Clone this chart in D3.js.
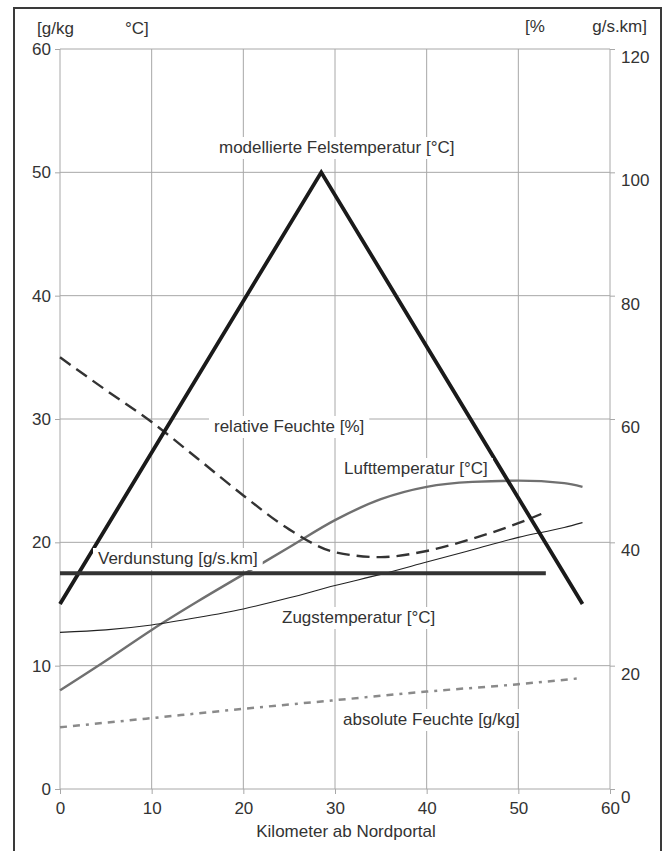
<!DOCTYPE html>
<html>
<head>
<meta charset="utf-8">
<script src="https://cdn.jsdelivr.net/npm/d3@7"></script>
<style>
  html, body { margin: 0; padding: 0; background: #fff; }
  svg { display: block; }
  text { font-family: "Liberation Sans", Arial, Helvetica, sans-serif; fill: #333; }
</style>
</head>
<body>
<svg id="chart" width="667" height="851"></svg>
<script>
// ---------- data ----------
const xTicks = [0, 10, 20, 30, 40, 50, 60];
const yLeftTicks = [0, 10, 20, 30, 40, 50, 60];
const yRightTicks = [0, 20, 40, 60, 80, 100, 120];

// modellierte Felstemperatur [°C] (left axis)
const felsKm   = [0, 28.5, 57];
const felsTemp = [15, 50, 15];

// relative Feuchte [%] (right axis)
const relKm  = [0, 5, 10, 15, 20, 25, 30, 35, 40, 45, 50, 52.5];
const relHum = [70, 64.7, 59.5, 53.6, 47.6, 42.1, 38.4, 37.6, 38.6, 40.6, 43.1, 44.6];

// Lufttemperatur [°C] (left axis)
const luftKm   = [0, 5, 10, 15, 20, 25, 30, 35, 40, 45, 50, 55, 57];
const luftTemp = [8.0, 10.4, 12.9, 15.2, 17.4, 19.6, 21.8, 23.5, 24.5, 24.9, 25.0, 24.8, 24.5];

// Zugstemperatur [°C] (left axis)
const zugKm   = [0, 5, 10, 15, 20, 25, 30, 35, 40, 45, 50, 55, 57];
const zugTemp = [12.7, 12.9, 13.3, 13.9, 14.6, 15.5, 16.5, 17.4, 18.4, 19.4, 20.4, 21.2, 21.6];

// absolute Feuchte [g/kg] (left axis)
const absKm  = [0, 10, 20, 30, 40, 50, 57];
const absVal = [5.0, 5.75, 6.5, 7.2, 7.9, 8.5, 9.0];

// Verdunstung [g/s.km] (right axis)
const verdKm  = [0, 53];
const verdVal = [35, 35];

const labelTexts = [
  "modellierte Felstemperatur [°C]",
  "relative Feuchte [%]",
  "Lufttemperatur [°C]",
  "Verdunstung [g/s.km]",
  "Zugstemperatur [°C]",
  "absolute Feuchte [g/kg]"
];
const xTitle = "Kilometer ab Nordportal";
const unitLeft = ["[g/kg", "°C]"];
const unitRight = ["[%", "g/s.km]"];

// ---------- drawing ----------
const svg = d3.select("#chart");
const FS = 17;
const x = d3.scaleLinear().domain([0, 60]).range([60, 610]);
const yL = d3.scaleLinear().domain([0, 60]).range([789, 49]);
const yR = d3.scaleLinear().domain([0, 120]).range([789, 49]);
const gridColor = "#a8a8a8";

// outer frame
svg.append("path")
  .attr("d", "M14,860 L14,8 L661,8 L661,860")
  .attr("fill", "none").attr("stroke", "#3a3a3a").attr("stroke-width", 2);

// gridlines
const grid = svg.append("g");
grid.selectAll("line.h").data(yLeftTicks).join("line")
  .attr("x1", x(0)).attr("x2", x(60))
  .attr("y1", d => yL(d)).attr("y2", d => yL(d))
  .attr("stroke", gridColor).attr("stroke-width", 1);
grid.selectAll("line.v").data(xTicks).join("line")
  .attr("x1", d => x(d)).attr("x2", d => x(d))
  .attr("y1", yL(0)).attr("y2", yL(60))
  .attr("stroke", gridColor).attr("stroke-width", 1);

// axes
function styleAxis(g) {
  g.select(".domain").remove();
  g.selectAll(".tick line").attr("stroke", gridColor);
  g.selectAll(".tick text").attr("font-size", FS).attr("fill", "#333")
    .attr("font-family", "Liberation Sans, Arial, sans-serif");
}
svg.append("g").attr("transform", `translate(${x(0)},0)`)
  .call(d3.axisLeft(yL).tickValues(yLeftTicks).tickSize(5).tickPadding(4))
  .call(styleAxis);
svg.append("g").attr("transform", `translate(${x(60)},0)`)
  .call(d3.axisRight(yR).tickValues(yRightTicks).tickSize(5).tickPadding(6))
  .call(styleAxis)
  .call(g => g.selectAll(".tick text").attr("transform", "translate(0,8)"));
svg.append("g").attr("transform", `translate(0,${yL(0)})`)
  .call(d3.axisBottom(x).tickValues(xTicks).tickSize(5).tickPadding(8))
  .call(styleAxis);

// series
const lineL = d3.line().x(d => x(d[0])).y(d => yL(d[1])).curve(d3.curveMonotoneX);
const lineR = d3.line().x(d => x(d[0])).y(d => yR(d[1])).curve(d3.curveMonotoneX);
const straightL = d3.line().x(d => x(d[0])).y(d => yL(d[1]));
const straightR = d3.line().x(d => x(d[0])).y(d => yR(d[1]));
const zip = (a, b) => a.map((v, i) => [v, b[i]]);

svg.append("path").datum(zip(luftKm, luftTemp)).attr("d", lineL)
  .attr("fill", "none").attr("stroke", "#707070").attr("stroke-width", 2.4);
svg.append("path").datum(zip(zugKm, zugTemp)).attr("d", lineL)
  .attr("fill", "none").attr("stroke", "#222").attr("stroke-width", 1.1);
svg.append("path").datum(zip(absKm, absVal)).attr("d", lineL)
  .attr("fill", "none").attr("stroke", "#8a8a8a").attr("stroke-width", 2.5)
  .attr("stroke-dasharray", "7,6,7,6,3,6");
svg.append("path").datum(zip(relKm, relHum)).attr("d", lineR)
  .attr("fill", "none").attr("stroke", "#333").attr("stroke-width", 2.4)
  .attr("stroke-dasharray", "13,7");

// label positions (pixel anchors, baseline)
const labelPos = [
  [219, 153], [214, 432], [344, 474], [98, 564], [282, 623], [343, 725]
];
const labels = svg.append("g");
labelTexts.forEach((t, i) => {
  const [lx, ly] = labelPos[i];
  const txt = labels.append("text").attr("x", lx).attr("y", ly)
    .attr("font-size", FS).text(t);
  const w = txt.node().getComputedTextLength();
  labels.insert("rect", "text").attr("x", lx - 5).attr("y", ly - 16)
    .attr("width", w + 10).attr("height", 22).attr("fill", "#fff");
});

svg.append("path").datum(zip(felsKm, felsTemp)).attr("d", straightL)
  .attr("fill", "none").attr("stroke", "#1a1a1a").attr("stroke-width", 3.8)
  .attr("stroke-linejoin", "miter");
svg.append("path").datum(zip(verdKm, verdVal)).attr("d", straightR)
  .attr("fill", "none").attr("stroke", "#333").attr("stroke-width", 4);

// raise labels above lines
labels.raise();

// axis title and units
svg.append("text").attr("x", 346).attr("y", 837).attr("text-anchor", "middle")
  .attr("font-size", FS).text(xTitle);
svg.append("text").attr("x", 37).attr("y", 34).attr("font-size", FS).text(unitLeft[0]);
svg.append("text").attr("x", 125).attr("y", 34).attr("font-size", FS).text(unitLeft[1]);
svg.append("text").attr("x", 525).attr("y", 32).attr("font-size", FS).text(unitRight[0]);
svg.append("text").attr("x", 647).attr("y", 32).attr("text-anchor", "end")
  .attr("font-size", FS).text(unitRight[1]);
</script>
</body>
</html>
